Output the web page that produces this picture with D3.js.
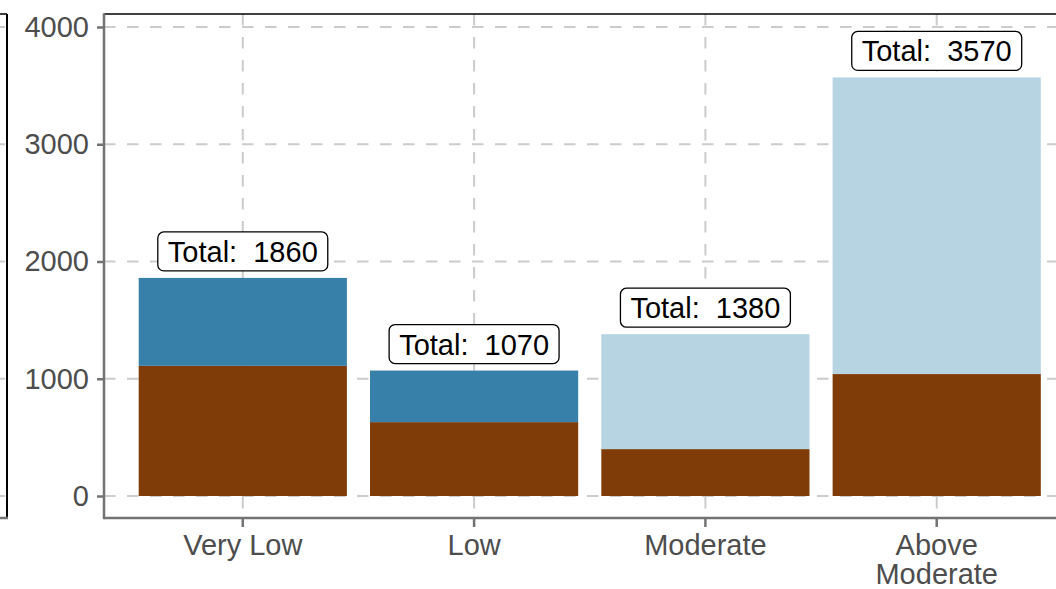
<!DOCTYPE html>
<html>
<head>
<meta charset="utf-8">
<script src="https://cdn.jsdelivr.net/npm/d3@7"></script>
<style>
  html, body { margin: 0; padding: 0; background: #fff; }
  svg { display: block; font-family: "Liberation Sans", Arial, sans-serif; }
</style>
</head>
<body>
<svg id="chart" width="1056" height="589"></svg>
<script>
// Categories and stacked segment values (bottom to top)
const categories = ["Very Low", "Low", "Moderate", "Above Moderate"];
const brownValues = [1110, 630, 400, 1040];
const blueValues = [750, 440, 0, 0];
const lightBlueValues = [0, 0, 980, 2530];
const totals = [1860, 1070, 1380, 3570];
const yTicks = [0, 1000, 2000, 3000, 4000];

const seriesKeys = ["brown", "blue", "lightBlue"];
const seriesColors = { brown: "#7f3b08", blue: "#3780a9", lightBlue: "#b6d4e1" };

const rows = categories.map((c, i) => ({
  category: c,
  brown: brownValues[i],
  blue: blueValues[i],
  lightBlue: lightBlueValues[i],
  total: totals[i]
}));

const svg = d3.select("#chart");
const FONT = 29;

// Panel geometry
const panel = { left: 104, right: 1075.5, top: 14, bottom: 518 };

const x = d3.scaleBand()
  .domain(categories)
  .range([panel.left, panel.right])
  .paddingInner(0.1)
  .paddingOuter(0.15);

const y = d3.scaleLinear().domain([0, 4000]).range([496, 27]);

// Neighbouring facet panel edge on the far left
const leftPanel = svg.append("g");
leftPanel.selectAll("line.grid")
  .data(yTicks).enter().append("line")
  .attr("x1", 0).attr("x2", 5)
  .attr("y1", d => y(d)).attr("y2", d => y(d))
  .attr("stroke", "#cccccc").attr("stroke-width", 2);
leftPanel.append("line")
  .attr("x1", 0).attr("x2", 7).attr("y1", panel.top).attr("y2", panel.top)
  .attr("stroke", "#000").attr("stroke-width", 1.5);
leftPanel.append("line")
  .attr("x1", 7).attr("x2", 7).attr("y1", panel.top).attr("y2", panel.bottom)
  .attr("stroke", "#000").attr("stroke-width", 2);
leftPanel.append("line")
  .attr("x1", 0).attr("x2", 8).attr("y1", panel.bottom).attr("y2", panel.bottom)
  .attr("stroke", "#737373").attr("stroke-width", 2.5);

// Gridlines
const grid = svg.append("g")
  .attr("stroke", "#cccccc").attr("stroke-width", 2)
  .attr("stroke-dasharray", "11.5,11.5");
grid.selectAll("line.h")
  .data(yTicks).enter().append("line")
  .attr("x1", panel.left).attr("x2", panel.right)
  .attr("y1", d => y(d)).attr("y2", d => y(d));
grid.selectAll("line.v")
  .data(categories).enter().append("line")
  .attr("x1", d => x(d) + x.bandwidth() / 2).attr("x2", d => x(d) + x.bandwidth() / 2)
  .attr("y1", panel.top).attr("y2", panel.bottom);

// Stacked bars
const stacked = d3.stack().keys(seriesKeys)(rows);
svg.append("g")
  .selectAll("g")
  .data(stacked).enter().append("g")
  .attr("fill", d => seriesColors[d.key])
  .selectAll("rect")
  .data(d => d.filter(s => s[1] - s[0] > 0)).enter().append("rect")
  .attr("x", d => x(d.data.category))
  .attr("width", x.bandwidth())
  .attr("y", d => y(d[1]))
  .attr("height", d => y(d[0]) - y(d[1]));

// Panel top border
svg.append("line")
  .attr("x1", panel.left).attr("x2", panel.right)
  .attr("y1", panel.top).attr("y2", panel.top)
  .attr("stroke", "#000").attr("stroke-width", 1.5);

// Y axis
const yAxis = svg.append("g")
  .attr("transform", `translate(${panel.left},0)`)
  .call(d3.axisLeft(y).tickValues(yTicks).tickSize(7).tickPadding(8).tickFormat(d3.format("d")));
yAxis.select(".domain").remove();
yAxis.selectAll(".tick line").attr("stroke", "#737373").attr("stroke-width", 2.5);
yAxis.selectAll(".tick text")
  .attr("fill", "#4d4d4d").style("font-size", FONT + "px")
  .style("font-family", "'Liberation Sans', Arial, sans-serif");

// X axis ticks
const xAxis = svg.append("g")
  .attr("transform", `translate(0,${panel.bottom})`)
  .call(d3.axisBottom(x).tickSize(9).tickPadding(8).tickFormat(""));
xAxis.select(".domain").remove();
xAxis.selectAll(".tick line").attr("stroke", "#737373").attr("stroke-width", 2.5);

// X category labels (wrapped onto two lines where needed)
const xLabels = svg.append("g")
  .attr("fill", "#4d4d4d")
  .style("font-size", FONT + "px")
  .attr("text-anchor", "middle");
xLabels.selectAll("text")
  .data(categories).enter().append("text")
  .attr("transform", d => `translate(${x(d) + x.bandwidth() / 2},555)`)
  .each(function (d) {
    const words = d === "Above Moderate" ? ["Above", "Moderate"] : [d];
    d3.select(this).selectAll("tspan").data(words).enter().append("tspan")
      .attr("x", 0).attr("dy", (w, i) => i === 0 ? 0 : 29).text(w => w);
  });

// Axis lines drawn on top
svg.append("line")
  .attr("x1", panel.left).attr("x2", panel.left)
  .attr("y1", panel.top - 0.75).attr("y2", panel.bottom + 1.25)
  .attr("stroke", "#737373").attr("stroke-width", 2.5);
svg.append("line")
  .attr("x1", panel.left).attr("x2", panel.right)
  .attr("y1", panel.bottom).attr("y2", panel.bottom)
  .attr("stroke", "#737373").attr("stroke-width", 2.5);

// Total labels above bars
const labels = svg.append("g").selectAll("g")
  .data(rows).enter().append("g")
  .attr("transform", d => `translate(${x(d.category) + x.bandwidth() / 2},${y(d.total) - 7})`);
labels.append("rect").attr("class", "box");
labels.append("text")
  .attr("text-anchor", "middle")
  .style("white-space", "pre")
  .style("font-size", FONT + "px")
  .attr("fill", "#000")
  .attr("y", -9)
  .text(d => `Total:  ${d.total}`);
labels.each(function () {
  const g = d3.select(this);
  const w = g.select("text").node().getComputedTextLength();
  g.select("rect.box")
    .attr("x", -w / 2 - 10).attr("width", w + 20)
    .attr("y", -39).attr("height", 39)
    .attr("rx", 6).attr("ry", 6)
    .attr("fill", "#fff").attr("stroke", "#000").attr("stroke-width", 1.3);
});
</script>
</body>
</html>
